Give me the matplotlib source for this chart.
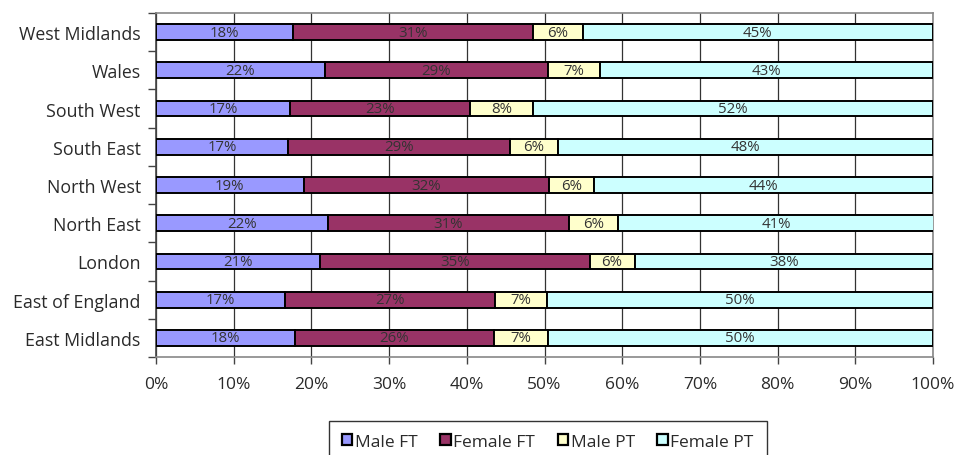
import matplotlib
matplotlib.use("Agg")
import matplotlib.pyplot as plt
import numpy as np

plt.rcParams['font.family'] = ['Open Sans', 'DejaVu Sans']

regions = ["East Midlands", "East of England", "London", "North East",
           "North West", "South East", "South West", "Wales", "West Midlands"]

male_ft = [17.9, 16.6, 21.1, 22.2, 19.0, 17.0, 17.2, 21.7, 17.6]
female_ft = [25.6, 27.0, 34.7, 30.9, 31.6, 28.6, 23.2, 28.8, 30.9]
male_pt = [6.9, 6.7, 5.8, 6.4, 5.8, 6.1, 8.1, 6.6, 6.4]
female_pt = [49.6, 49.7, 38.4, 40.6, 43.6, 48.3, 51.5, 42.9, 45.1]

series = ["Male FT", "Female FT", "Male PT", "Female PT"]
colors = ["#9999FF", "#993366", "#FFFFCC", "#CCFFFF"]
xticks = [0, 10, 20, 30, 40, 50, 60, 70, 80, 90, 100]

text_col = "#2a2a2a"

fig = plt.figure(figsize=(9.6, 4.56), dpi=100)
ax = fig.add_axes([156 / 960, 98 / 456, 777 / 960, 344 / 456])

y = np.arange(len(regions))
left = np.zeros(len(regions))
for name, vals, col in zip(series, [male_ft, female_ft, male_pt, female_pt], colors):
    vals = np.array(vals)
    ax.barh(y, vals, left=left, height=0.41, color=col, edgecolor="black",
            linewidth=1.4, label=name, zorder=3)
    for yi, l, v in zip(y, left, vals):
        ax.text(l + v / 2, yi, f"{v:.0f}%", ha="center", va="center",
                fontsize=10.8, color="#333333", zorder=4)
    left += vals

ax.set_xlim(0, 100)
ax.set_ylim(-0.5, len(regions) - 0.5)
ax.set_xticks(xticks)
ax.set_xticklabels([f"{t}%" for t in xticks], fontsize=12.5, color=text_col)
ax.set_yticks(y)
ax.set_yticklabels(regions, fontsize=12.8, color=text_col)
ax.tick_params(axis="y", length=0, pad=11)
ax.set_yticks(np.arange(len(regions) + 1) - 0.5, minor=True)
ax.tick_params(axis="y", which="minor", length=6, width=1, color="#444444")
ax.tick_params(axis="x", length=5, width=1, color="#444444", pad=9)

ax.grid(axis="x", color="#333333", linewidth=0.9, zorder=0)
for s in ["top", "right"]:
    ax.spines[s].set_color("#888888")
    ax.spines[s].set_linewidth(1.2)
ax.spines["left"].set_color("#444444")
ax.spines["bottom"].set_color("#888888")
ax.spines["left"].set_linewidth(1.2)
ax.spines["bottom"].set_linewidth(1.2)

leg = fig.legend(loc="upper left", bbox_to_anchor=(329 / 960, 34 / 456), ncol=4,
                 fontsize=12.5, frameon=True, fancybox=False, edgecolor="black",
                 handlelength=0.6, handleheight=0.6, handletextpad=0.15,
                 columnspacing=1.3, borderpad=0.75, borderaxespad=0)
leg.get_frame().set_linewidth(1.0)
for h in leg.legend_handles:
    h.set_linewidth(1.6)
for t in leg.get_texts():
    t.set_color(text_col)

fig.savefig("out.png", dpi=100)
